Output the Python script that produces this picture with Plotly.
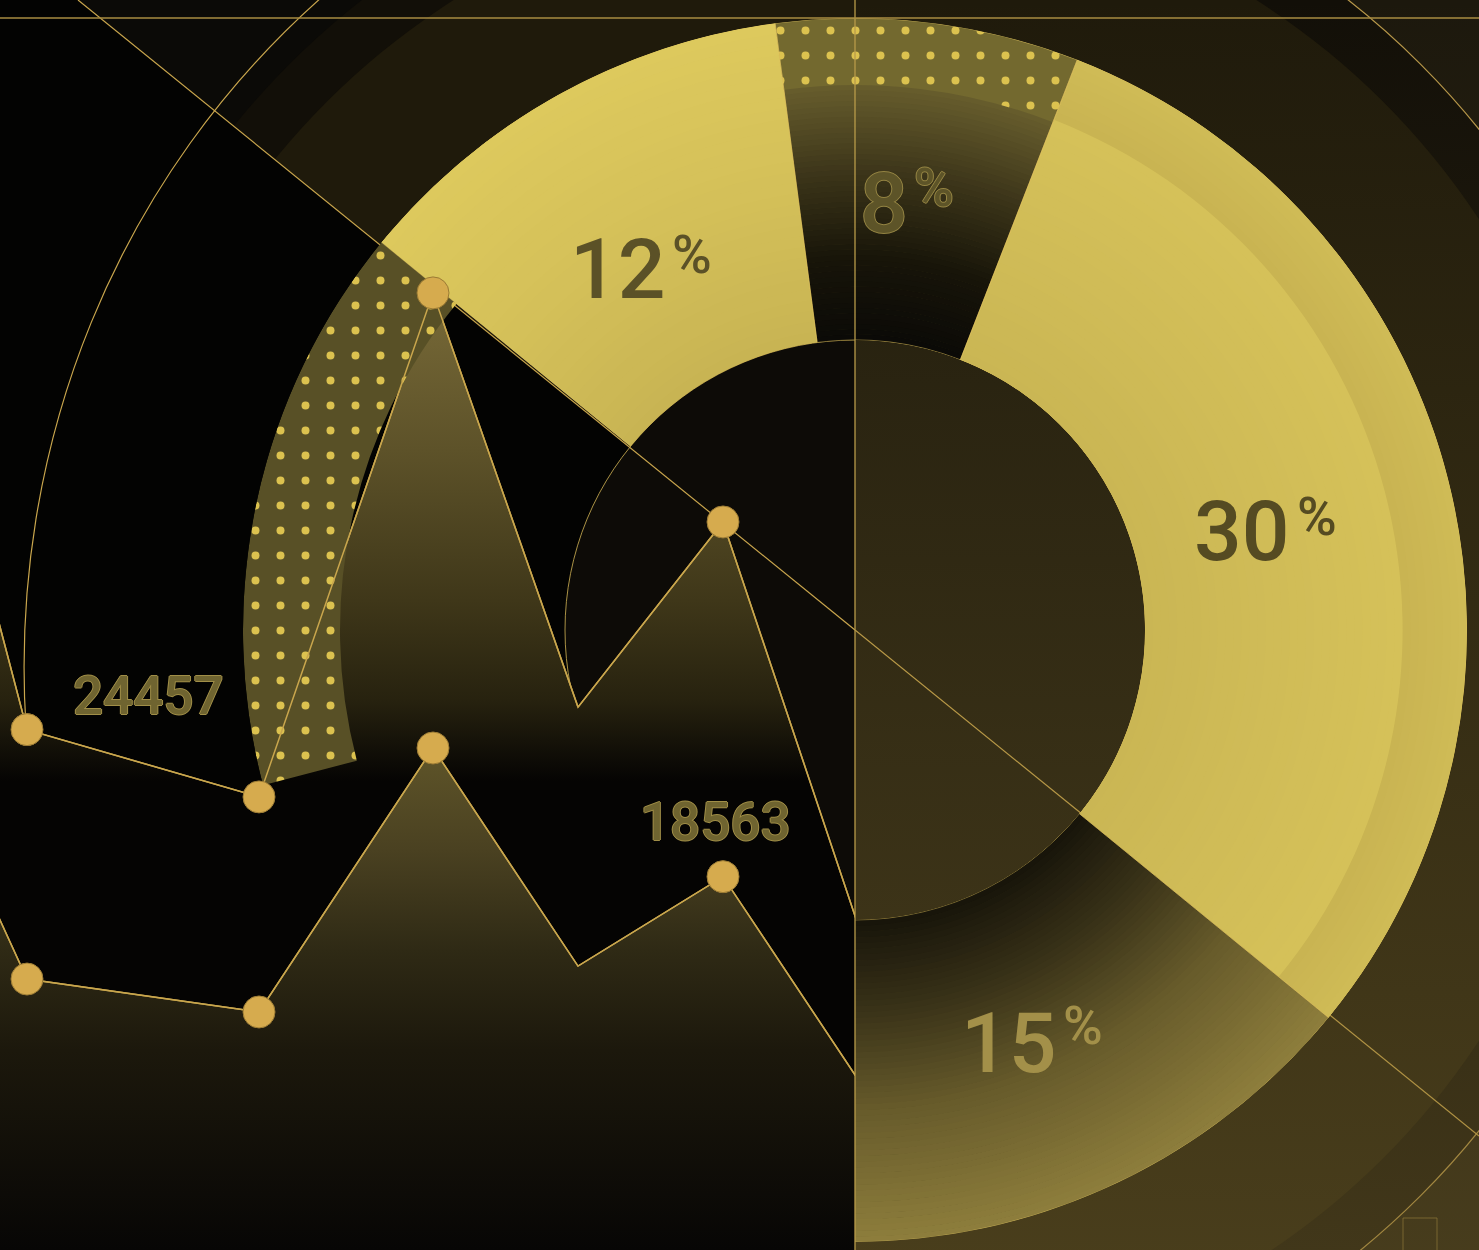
import numpy as np
import plotly.graph_objects as go

W, H = 1479, 1250

# ---------------- data ----------------
# donut shares (percent), clockwise starting at the top
seg_labels = ["8%", "30%", "15%", "other", "dotted", "12%"]
seg_shares = [8, 30, 15, 20, 15, 12]
shown_labels = ["12%", "8%", "30%", "15%"]

# line chart (two series)
periods = [0, 8, 16, 22, 27, 32, 41]
upper_values = [59870, 24457, 21760, 41960, 25360, 32780, 1560]
lower_values = [34780, 14460, 13140, 23720, 14980, 18563, 2860]
marker_on = [False, True, True, True, False, True, False]
labelled = [("upper", 1), ("lower", 5)]

# ---------------- geometry / style ----------------
CX, CY = 855, 630
R_OUT, R_IN = 612, 290
THICK = R_OUT - R_IN
GOLD = "#c9a64d"
MARK = "#d6ab4e"


def px(x):
    return x / W


def py(y):
    return 1 - y / H


shares = np.array(seg_shares, dtype=float)
cum = np.concatenate([[0], np.cumsum(shares)])
centers = (cum[:-1] + shares / 2) * 3.6
widths = shares * 3.6
idx = {n: i for i, n in enumerate(seg_labels)}


def hex2rgb(h):
    h = h.lstrip("#")
    return tuple(int(h[i:i + 2], 16) for i in (0, 2, 4))


def grad_bands(stops, n):
    rs = [s[0] for s in stops]
    cols = [hex2rgb(s[1]) for s in stops]
    edges = np.linspace(rs[0], rs[-1], n + 1)
    out = []
    for a, b in zip(edges[:-1], edges[1:]):
        m = (a + b) / 2
        c = [int(round(np.interp(m, rs, [cc[k] for cc in cols]))) for k in range(3)]
        out.append((a, b + 0.6, "rgb(%d,%d,%d)" % tuple(c)))
    return out


band_specs = {
    "8%": grad_bands([(290, "#0b0a07"), (370, "#171409"), (455, "#3b3419"), (545, "#675d2d")], 48),
    "30%": grad_bands([(290, "#cab654"), (420, "#d0bc57"), (545, "#d5c159"), (548, "#c9b452"),
                       (612, "#cfbb56")], 40),
    "15%": grad_bands([(290, "#17140a"), (380, "#393218"), (480, "#675b2b"), (612, "#8e7e3c")], 56),
    "12%": grad_bands([(290, "#c8b453"), (450, "#d4c059"), (612, "#ddc95d")], 30),
}
pattern_specs = {
    "8%": (545, 612, "#73692f"),
    "dotted": (515, 612, "#585026"),
}
base_colors = ["#5f5629", "#cdb955", "#4a4220", "rgba(0,0,0,0)", "rgba(0,0,0,0)", "#d2be58"]
outline_colors = ["rgba(225,195,95,0.55)", "rgba(225,195,95,0.55)", "rgba(225,195,95,0.45)",
                  "rgba(0,0,0,0)", "rgba(0,0,0,0)", "rgba(225,195,95,0.45)"]

fig = go.Figure()

# ---------------- right-half tint (cartesian x2/y2) ----------------
fig.add_trace(go.Scatter(
    x=[855, 1479, 1479, 855, 855], y=[0, 0, 1250, 1250, 0], mode="none", fill="toself",
    fillgradient=dict(type="vertical",
                      colorscale=[[0, "rgba(130,110,50,0)"], [1, "rgba(130,110,50,0.42)"]],
                      start=0, stop=1250),
    xaxis="x2", yaxis="y2", hoverinfo="skip", showlegend=False))

# ---------------- line chart (x / y) ----------------
fig.add_trace(go.Scatter(
    x=periods, y=upper_values, mode="lines+markers",
    line=dict(color=GOLD, width=1.5),
    marker=dict(size=[32 if m else 0 for m in marker_on], color=MARK, line=dict(width=0)),
    fill="tozeroy",
    fillgradient=dict(type="vertical",
                      colorscale=[[0, "#050403"], [0.166, "#27220f"], [0.37, "#3f3719"],
                                  [0.678, "#5d5229"], [1, "#786a38"]],
                      start=22400, stop=41960),
    hoverinfo="skip", showlegend=False))
fig.add_trace(go.Scatter(
    x=periods, y=lower_values, mode="lines+markers",
    line=dict(color=GOLD, width=1.5),
    marker=dict(size=[32 if m else 0 for m in marker_on], color=MARK, line=dict(width=0)),
    fill="tozeroy",
    fillgradient=dict(type="vertical",
                      colorscale=[[0, "#070605"], [0.398, "#1c180c"], [0.598, "#2f2a15"],
                                  [0.797, "#4a4121"], [1, "#5f5529"]],
                      start=3600, stop=23720),
    hoverinfo="skip", showlegend=False))

# ---------------- donut (polar) ----------------
fig.add_trace(go.Barpolar(
    theta=centers, width=widths, r=[THICK] * len(seg_shares), base=[0] * len(seg_shares),
    marker=dict(color=base_colors, line=dict(width=0)),
    hoverinfo="skip", showlegend=False))

for name, bands in band_specs.items():
    i = idx[name]
    fig.add_trace(go.Barpolar(
        theta=[centers[i]] * len(bands), width=[widths[i]] * len(bands),
        base=[b[0] - R_IN for b in bands], r=[min(b[1], R_OUT) - b[0] for b in bands],
        marker=dict(color=[b[2] for b in bands], line=dict(width=0)),
        hoverinfo="skip", showlegend=False))

for name, (r0, r1, bg) in pattern_specs.items():
    i = idx[name]
    fig.add_trace(go.Barpolar(
        theta=[centers[i]], width=[widths[i]], base=[r0 - R_IN], r=[r1 - r0],
        marker=dict(color=bg, line=dict(width=0),
                    pattern=dict(shape=".", fgcolor="#dcc24f", bgcolor=bg, size=25,
                                 solidity=0.08, fillmode="replace")),
        hoverinfo="skip", showlegend=False))

fig.add_trace(go.Barpolar(
    theta=centers, width=widths, r=[THICK] * len(seg_shares), base=[0] * len(seg_shares),
    marker=dict(color="rgba(0,0,0,0)", line=dict(width=1, color=outline_colors)),
    hoverinfo="skip", showlegend=False))

# ---------------- decorative shapes ----------------
shapes = []
shapes.append(dict(type="rect", xref="paper", yref="paper", x0=px(855), x1=1, y0=0, y1=1,
                   fillcolor="#1c180d", line=dict(width=0), layer="below"))
for r, col in [(800, "#120f08"), (747, "#1f1a0b")]:
    shapes.append(dict(type="circle", xref="paper", yref="paper",
                       x0=px(CX - r), x1=px(CX + r), y0=py(CY + r), y1=py(CY - r),
                       fillcolor=col, line=dict(width=0), layer="below"))
shapes.append(dict(type="path", xref="paper", yref="paper",
                   path="M %f,%f L %f,%f L %f,%f L %f,%f L %f,%f Z" % (
                       px(0), py(0), px(78), py(0), px(CX), py(CY), px(CX), py(H), px(0), py(H)),
                   fillcolor="#030302", line=dict(width=0), layer="below"))
shapes.append(dict(type="path", xref="paper", yref="paper",
                   path="M %f,%f C %f,%f %f,%f %f,%f" % (
                       px(26), py(727), px(8), py(446), px(117), py(174), px(330), py(-10)),
                   line=dict(color=GOLD, width=1.2), layer="below"))
shapes.append(dict(type="circle", xref="paper", yref="paper",
                   x0=px(CX - R_IN), x1=px(CX + R_IN), y0=py(CY + R_IN), y1=py(CY - R_IN),
                   fillcolor="#0d0b07", line=dict(color="rgba(210,180,85,0.8)", width=1),
                   layer="below"))
shapes.append(dict(type="line", xref="paper", yref="paper",
                   x0=px(78), y0=py(0), x1=px(CX), y1=py(CY),
                   line=dict(color=GOLD, width=1.2), layer="below"))
shapes.append(dict(type="circle", xref="x2", yref="y2", x0=CX - 800, x1=CX + 800,
                   y0=CY - 800, y1=CY + 800, fillcolor="rgba(0,0,0,0)",
                   line=dict(color="#b8984a", width=1.2), layer="below"))
shapes.append(dict(type="circle", xref="x2", yref="y2", x0=CX - R_IN, x1=CX + R_IN,
                   y0=CY - R_IN, y1=CY + R_IN, fillcolor="#1d190c",
                   line=dict(width=0), layer="below"))
shapes.append(dict(type="line", xref="x2", yref="y2", x0=CX, y0=CY, x1=1479,
                   y1=CY + (1479 - CX) * CY / (CX - 78),
                   line=dict(color=GOLD, width=1.2), layer="below"))
shapes.append(dict(type="rect", xref="x2", yref="y2", x0=1403, x1=1437, y0=1218, y1=1252,
                   fillcolor="rgba(0,0,0,0)", line=dict(color="rgba(150,125,60,0.7)", width=1),
                   layer="below"))
shapes.append(dict(type="line", xref="paper", yref="paper", x0=px(CX), x1=px(CX), y0=0, y1=1,
                   line=dict(color="#b99b4a", width=1.3), layer="above"))
shapes.append(dict(type="line", xref="paper", yref="paper", x0=0, x1=1, y0=py(18), y1=py(18),
                   line=dict(color="#a88c42", width=1.3), layer="above"))

for vals in (upper_values, lower_values):
    path = "M " + " L ".join("%s,%s" % (x, y) for x, y in zip(periods, vals))
    shapes.append(dict(type="path", xref="x", yref="y", path=path,
                       line=dict(color=GOLD, width=1.5), layer="above"))
    for x, y, m in zip(periods, vals, marker_on):
        if m:
            shapes.append(dict(type="circle", xref="x", yref="y", xsizemode="pixel",
                               ysizemode="pixel", xanchor=x, yanchor=y,
                               x0=-16, x1=16, y0=-16, y1=16, fillcolor=MARK,
                               line=dict(color="#9a7a34", width=1), layer="above"))

# ---------------- annotations ----------------
FONT = "Roboto"
# (number centre x, number centre y, percent-sign left x, percent-sign centre y)
pct_pos = {"12%": (617, 269, 670, 254), "8%": (884, 203, 912, 188),
           "30%": (1241, 531, 1295, 516), "15%": (1008, 1043, 1061, 1025)}
pct_col = {"12%": "#5b5127", "8%": "#5d5428", "30%": "#554b22", "15%": "#a39049"}
annotations = []
for lab in shown_labels:
    share = seg_shares[idx[lab]]
    nx, ny, sx, sy = pct_pos[lab]
    shadow = "none"
    if lab == "8%":
        shadow = "1px 0 #948443, -1px 0 #948443, 0 1px #948443, 0 -1px #948443"
    annotations.append(dict(
        xref="paper", yref="paper", x=px(nx), y=py(ny), showarrow=False,
        text=str(share),
        font=dict(family=FONT, size=84, weight=500, color=pct_col[lab], shadow=shadow),
        xanchor="center", yanchor="middle"))
    annotations.append(dict(
        xref="paper", yref="paper", x=px(sx), y=py(sy), showarrow=False,
        text="%",
        font=dict(family=FONT, size=54, weight=500, color=pct_col[lab], shadow=shadow),
        xanchor="left", yanchor="middle"))

series = {"upper": upper_values, "lower": lower_values}
offsets = {"upper": (121, 34), "lower": (-8, 55)}
for sname, i in labelled:
    vals = series[sname]
    dx, dy = offsets[sname]
    annotations.append(dict(
        xref="x", yref="y", x=periods[i], y=vals[i], xshift=dx, yshift=dy, showarrow=False,
        text=str(vals[i]),
        font=dict(family=FONT, size=53, weight=500, color="#6f6430",
                  shadow="1px 0 #a08e47, -1px 0 #a08e47, 0 1px #a08e47, 0 -1px #a08e47"),
        xanchor="center", yanchor="middle"))

xsplit = CX / W
fig.update_layout(
    width=W, height=H, margin=dict(l=0, r=0, t=0, b=0),
    paper_bgcolor="#0b0a07", plot_bgcolor="rgba(0,0,0,0)",
    hovermode=False, showlegend=False,
    xaxis=dict(domain=[0, xsplit], range=[8 - 27 / 29, 8 + (CX - 27) / 29], visible=False,
               fixedrange=True, anchor="y"),
    yaxis=dict(domain=[0, 1], range=[3600, 53700], visible=False, fixedrange=True, anchor="x"),
    xaxis2=dict(domain=[xsplit, 1], range=[CX, W], visible=False, fixedrange=True, anchor="y2"),
    yaxis2=dict(domain=[0, 1], range=[H, 0], visible=False, fixedrange=True, anchor="x2"),
    polar=dict(
        domain=dict(x=[px(CX - R_OUT), px(CX + R_OUT)], y=[py(CY + R_OUT), py(CY - R_OUT)]),
        hole=R_IN / R_OUT, bgcolor="rgba(0,0,0,0)", sector=[-90, 200],
        angularaxis=dict(visible=False, rotation=97.5, direction="clockwise"),
        radialaxis=dict(visible=False, range=[0, THICK]),
    ),
    shapes=shapes, annotations=annotations,
)

fig.write_html("out.html", config={"displayModeBar": False},
               post_script="document.body.style.margin='0';document.body.style.background='#0b0a07';")
